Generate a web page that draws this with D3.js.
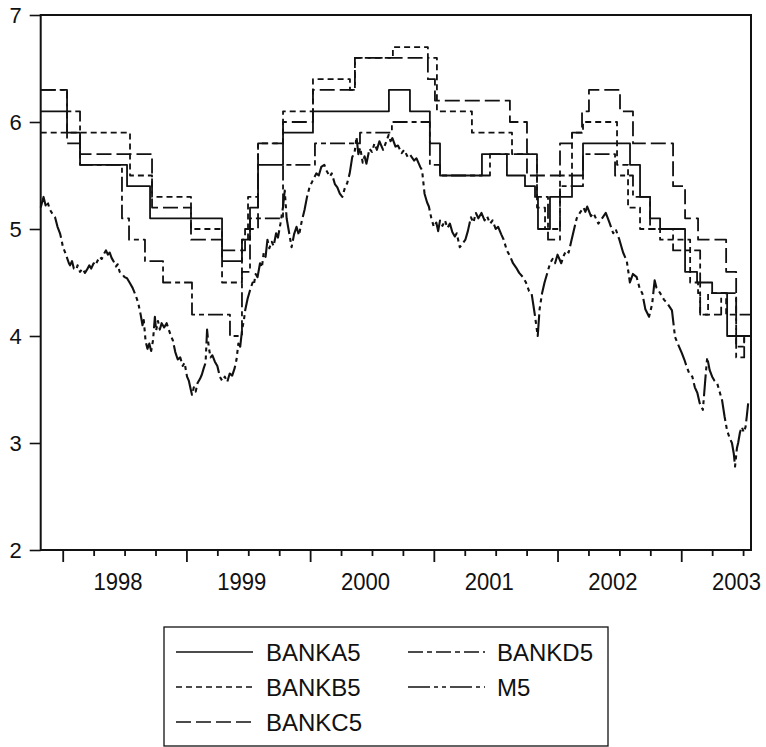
<!DOCTYPE html>
<html>
<head>
<meta charset="utf-8">
<script src="https://cdn.jsdelivr.net/npm/d3@7"></script>
<style>
  body { margin: 0; background: #fff; }
  text { font-family: "Liberation Sans", Arial, Helvetica, sans-serif; fill: #111; }
</style>
</head>
<body>
<svg id="chart" width="766" height="747"></svg>
<script>
// step series: [decimal year, rate], each value holds until the next entry
const bankA5 = [
  [1997.822, 6.1], [1998.035, 5.9], [1998.140, 5.6], [1998.520, 5.4], [1998.706, 5.1],
  [1999.288, 4.7], [1999.449, 4.9], [1999.514, 5.2], [1999.579, 5.6], [1999.781, 5.9],
  [2000.023, 6.1], [2000.637, 6.3], [2000.807, 6.1], [2000.968, 5.8], [2001.050, 5.5],
  [2001.389, 5.7], [2001.591, 5.5], [2001.737, 5.4], [2001.818, 5.3], [2001.842, 5.0],
  [2001.939, 5.3], [2002.117, 5.5], [2002.206, 5.8], [2002.586, 5.6], [2002.667, 5.3],
  [2002.748, 5.1], [2002.829, 5.0], [2003.031, 4.6], [2003.128, 4.5], [2003.250, 4.4],
  [2003.371, 4.0], [2003.564, 4.0]
];
const bankB5 = [
  [1997.822, 5.9], [1998.544, 5.5], [1998.722, 5.3], [1999.037, 5.0], [1999.288, 4.5],
  [1999.449, 4.9], [1999.498, 5.3], [1999.579, 5.8], [1999.781, 6.1], [2000.023, 6.4],
  [2000.322, 6.3], [2000.362, 6.6], [2000.669, 6.7], [2000.952, 6.6], [2001.025, 6.1],
  [2001.308, 5.9], [2001.632, 5.7], [2001.834, 5.2], [2001.899, 5.0], [2002.020, 5.5],
  [2002.117, 5.9], [2002.206, 6.0], [2002.481, 5.6], [2002.570, 5.2], [2002.667, 5.0],
  [2002.829, 4.9], [2003.072, 4.5], [2003.136, 4.4], [2003.153, 4.2], [2003.217, 4.4],
  [2003.363, 4.2], [2003.444, 3.9], [2003.509, 4.0], [2003.564, 4.0]
];
const bankC5 = [
  [1997.822, 6.3], [1998.035, 5.8], [1998.140, 5.7], [1998.722, 5.2], [1999.037, 4.9],
  [1999.288, 4.8], [1999.474, 5.0], [1999.579, 5.8], [1999.781, 6.0], [2000.023, 6.3],
  [2000.362, 6.6], [2000.952, 6.4], [2001.009, 6.2], [2001.615, 6.0], [2001.753, 5.5],
  [2002.020, 5.8], [2002.117, 5.9], [2002.198, 6.1], [2002.254, 6.3], [2002.505, 6.1],
  [2002.610, 5.8], [2002.934, 5.4], [2003.031, 5.1], [2003.136, 4.9], [2003.363, 4.6],
  [2003.444, 4.2], [2003.564, 4.2]
];
const bankD5 = [
  [1997.822, 6.3], [1998.035, 6.1], [1998.140, 5.6], [1998.479, 5.1], [1998.536, 4.9],
  [1998.665, 4.7], [1998.811, 4.5], [1999.045, 4.2], [1999.352, 4.0], [1999.449, 4.6],
  [1999.514, 5.1], [1999.781, 5.6], [2000.039, 5.8], [2000.403, 5.9], [2000.661, 6.0],
  [2000.968, 5.6], [2001.050, 5.5], [2001.454, 5.7], [2001.834, 5.3], [2001.923, 4.9],
  [2002.020, 5.4], [2002.206, 5.7], [2002.465, 5.5], [2002.610, 5.3], [2002.748, 5.0],
  [2002.934, 4.8], [2003.153, 4.2], [2003.323, 4.4], [2003.444, 3.8], [2003.509, 4.0],
  [2003.564, 4.0]
];
// market rate (noisy daily series)
const m5 = [
  [1997.822, 5.20], [1997.845, 5.30], [1997.862, 5.22], [1997.875, 5.26], [1997.897, 5.18],
  [1997.918, 5.14], [1997.938, 5.11], [1997.958, 5.02], [1997.978, 4.96], [1997.990, 4.90],
  [1998.002, 4.83], [1998.020, 4.78], [1998.035, 4.73], [1998.050, 4.68], [1998.059, 4.66],
  [1998.075, 4.70], [1998.090, 4.63], [1998.110, 4.62], [1998.120, 4.66], [1998.140, 4.60],
  [1998.160, 4.63], [1998.180, 4.59], [1998.196, 4.62], [1998.215, 4.66], [1998.230, 4.63],
  [1998.250, 4.68], [1998.265, 4.66], [1998.280, 4.70], [1998.300, 4.74], [1998.315, 4.72],
  [1998.335, 4.77], [1998.350, 4.80], [1998.365, 4.76], [1998.380, 4.78], [1998.395, 4.73],
  [1998.410, 4.70], [1998.430, 4.65], [1998.445, 4.67], [1998.460, 4.60], [1998.480, 4.58],
  [1998.500, 4.55], [1998.520, 4.54], [1998.545, 4.49], [1998.565, 4.45], [1998.590, 4.38],
  [1998.610, 4.31], [1998.630, 4.20], [1998.645, 4.10], [1998.655, 4.15], [1998.670, 3.95],
  [1998.685, 3.88], [1998.700, 3.93], [1998.715, 3.86], [1998.730, 3.96], [1998.745, 4.18],
  [1998.755, 4.05], [1998.770, 4.14], [1998.785, 4.06], [1998.800, 4.12], [1998.820, 4.08],
  [1998.840, 4.12], [1998.860, 4.05], [1998.875, 4.00], [1998.890, 3.96], [1998.910, 3.85],
  [1998.930, 3.78], [1998.950, 3.80], [1998.970, 3.72], [1998.985, 3.75], [1999.005, 3.62],
  [1999.020, 3.58], [1999.035, 3.50], [1999.045, 3.45], [1999.060, 3.52], [1999.075, 3.48],
  [1999.090, 3.56], [1999.110, 3.60], [1999.125, 3.64], [1999.140, 3.70], [1999.155, 3.75],
  [1999.167, 4.06], [1999.180, 3.90], [1999.195, 3.80], [1999.210, 3.82], [1999.230, 3.76],
  [1999.250, 3.72], [1999.270, 3.62], [1999.290, 3.58], [1999.310, 3.62], [1999.330, 3.57],
  [1999.350, 3.65], [1999.370, 3.63], [1999.390, 3.70], [1999.405, 3.78], [1999.420, 3.93],
  [1999.435, 3.90], [1999.450, 4.06], [1999.465, 4.15], [1999.475, 4.24], [1999.495, 4.35],
  [1999.515, 4.43], [1999.535, 4.50], [1999.545, 4.48], [1999.560, 4.58], [1999.575, 4.55],
  [1999.595, 4.68], [1999.610, 4.64], [1999.625, 4.78], [1999.640, 4.74], [1999.655, 4.90],
  [1999.670, 4.82], [1999.690, 4.88], [1999.705, 4.84], [1999.725, 4.96], [1999.740, 4.92],
  [1999.760, 5.05], [1999.780, 5.20], [1999.795, 5.36], [1999.810, 5.10], [1999.825, 5.00],
  [1999.850, 4.83], [1999.870, 4.95], [1999.890, 5.02], [1999.910, 4.94], [1999.930, 5.06],
  [1999.955, 5.18], [1999.975, 5.30], [1999.995, 5.39], [2000.020, 5.45], [2000.050, 5.52],
  [2000.070, 5.50], [2000.090, 5.58], [2000.115, 5.60], [2000.130, 5.55], [2000.160, 5.49],
  [2000.175, 5.52], [2000.200, 5.42], [2000.220, 5.39], [2000.240, 5.33], [2000.260, 5.30],
  [2000.280, 5.38], [2000.300, 5.43], [2000.320, 5.52], [2000.340, 5.67], [2000.360, 5.72],
  [2000.375, 5.86], [2000.390, 5.70], [2000.405, 5.76], [2000.425, 5.62], [2000.440, 5.68],
  [2000.455, 5.61], [2000.480, 5.75], [2000.500, 5.72], [2000.520, 5.80], [2000.540, 5.74],
  [2000.560, 5.82], [2000.590, 5.74], [2000.610, 5.80], [2000.635, 5.88], [2000.650, 5.82],
  [2000.665, 5.85], [2000.690, 5.77], [2000.710, 5.78], [2000.740, 5.71], [2000.760, 5.74],
  [2000.790, 5.67], [2000.810, 5.69], [2000.840, 5.64], [2000.860, 5.66], [2000.890, 5.58],
  [2000.905, 5.55], [2000.925, 5.33], [2000.945, 5.25], [2000.960, 5.21], [2000.980, 5.10],
  [2001.000, 5.02], [2001.020, 5.06], [2001.035, 4.98], [2001.050, 5.08], [2001.070, 5.03],
  [2001.090, 5.08], [2001.110, 5.01], [2001.130, 5.05], [2001.150, 4.97], [2001.170, 4.93],
  [2001.185, 4.96], [2001.210, 4.83], [2001.230, 4.86], [2001.255, 4.90], [2001.275, 4.98],
  [2001.300, 5.11], [2001.320, 5.06], [2001.340, 5.15], [2001.360, 5.10], [2001.385, 5.15],
  [2001.410, 5.08], [2001.430, 5.12], [2001.455, 5.05], [2001.475, 5.08], [2001.500, 5.00],
  [2001.520, 5.02], [2001.545, 4.95], [2001.565, 4.90], [2001.590, 4.80], [2001.615, 4.75],
  [2001.640, 4.68], [2001.665, 4.64], [2001.690, 4.59], [2001.720, 4.55], [2001.745, 4.50],
  [2001.770, 4.42], [2001.790, 4.40], [2001.815, 4.21], [2001.840, 4.00], [2001.855, 4.25],
  [2001.875, 4.40], [2001.895, 4.50], [2001.915, 4.58], [2001.940, 4.68], [2001.960, 4.72],
  [2001.980, 4.68], [2002.000, 4.76], [2002.030, 4.68], [2002.050, 4.75], [2002.070, 4.80],
  [2002.090, 4.78], [2002.110, 4.88], [2002.130, 4.98], [2002.155, 5.10], [2002.180, 5.15],
  [2002.210, 5.20], [2002.225, 5.16], [2002.240, 5.21], [2002.270, 5.12], [2002.290, 5.15],
  [2002.330, 5.05], [2002.360, 5.10], [2002.390, 5.15], [2002.420, 5.06], [2002.450, 4.96],
  [2002.470, 5.00], [2002.500, 4.90], [2002.530, 4.78], [2002.560, 4.70], [2002.585, 4.50],
  [2002.610, 4.58], [2002.640, 4.55], [2002.665, 4.44], [2002.685, 4.40], [2002.710, 4.25],
  [2002.740, 4.18], [2002.765, 4.30], [2002.785, 4.52], [2002.800, 4.45], [2002.830, 4.40],
  [2002.860, 4.34], [2002.885, 4.31], [2002.925, 4.24], [2002.950, 3.99], [2002.975, 3.92],
  [2003.005, 3.84], [2003.025, 3.78], [2003.045, 3.71], [2003.065, 3.65], [2003.090, 3.62],
  [2003.110, 3.52], [2003.130, 3.47], [2003.150, 3.37], [2003.175, 3.31], [2003.195, 3.60],
  [2003.210, 3.80], [2003.230, 3.68], [2003.250, 3.62], [2003.270, 3.58], [2003.290, 3.56],
  [2003.310, 3.48], [2003.330, 3.40], [2003.350, 3.25], [2003.370, 3.12], [2003.390, 3.05],
  [2003.410, 3.00], [2003.425, 2.90], [2003.435, 2.78], [2003.450, 2.95], [2003.460, 3.00],
  [2003.475, 3.10], [2003.490, 3.15], [2003.505, 3.10], [2003.520, 3.15], [2003.530, 3.25],
  [2003.541, 3.37]
];

const yTicks = [2, 3, 4, 5, 6, 7];
const yearLabels = [1998, 1999, 2000, 2001, 2002, 2003];
const legendNames = ["BANKA5", "BANKB5", "BANKC5", "BANKD5", "M5"];

const series = [
  { name: "BANKA5", data: bankA5, dash: null, step: true },
  { name: "BANKB5", data: bankB5, dash: "6,4", step: true },
  { name: "BANKC5", data: bankC5, dash: "15,5", step: true },
  { name: "BANKD5", data: bankD5, dash: "15,4,5,4", step: true },
  { name: "M5", data: m5, dash: "22,4,4,4,4,4", step: false }
];

const svg = d3.select("#chart");
const plotLeft = 40.7, plotRight = 751, plotTop = 15, plotBottom = 550;

const x = d3.scaleLinear().domain([1997.822, 2003.564]).range([plotLeft, plotRight]);
const y = d3.scaleLinear().domain([2, 7]).range([plotBottom, plotTop]);

const plot = svg.append("g");

const stepLine = d3.line().x(d => x(d[0])).y(d => y(d[1])).curve(d3.curveStepAfter);
const plainLine = d3.line().x(d => x(d[0])).y(d => y(d[1]));

series.forEach(s => {
  plot.append("path")
    .datum(s.data)
    .attr("d", s.step ? stepLine : plainLine)
    .attr("fill", "none")
    .attr("stroke", "#111")
    .attr("stroke-width", s.step ? 1.8 : 2.1)
    .attr("stroke-linejoin", "round")
    .attr("stroke-dasharray", s.dash);
});

// frame
svg.append("rect")
  .attr("x", plotLeft).attr("y", plotTop)
  .attr("width", plotRight - plotLeft).attr("height", plotBottom - plotTop)
  .attr("fill", "none").attr("stroke", "#111").attr("stroke-width", 2);

// y axis
const yAxis = svg.append("g")
  .attr("transform", `translate(${plotLeft},0)`)
  .call(d3.axisLeft(y).tickValues(yTicks).tickSize(11).tickPadding(8).tickFormat(d3.format("d")));
yAxis.select(".domain").remove();
yAxis.selectAll("line").attr("stroke", "#111").attr("stroke-width", 1.6);
yAxis.selectAll("text").attr("font-size", 22).attr("font-family", null);

// x axis: years and quarters
const majorTicks = yearLabels.map(d => d);
const minorTicks = [];
yearLabels.forEach(yr => [0.25, 0.5, 0.75].forEach(q => { if (yr + q <= 2003.564) minorTicks.push(yr + q); }));

const xMajor = svg.append("g")
  .attr("transform", `translate(0,${plotBottom})`)
  .call(d3.axisBottom(x).tickValues(majorTicks).tickSize(12).tickFormat(""));
const xMinor = svg.append("g")
  .attr("transform", `translate(0,${plotBottom})`)
  .call(d3.axisBottom(x).tickValues(minorTicks).tickSize(6).tickFormat(""));
[xMajor, xMinor].forEach(g => {
  g.select(".domain").remove();
  g.selectAll("line").attr("stroke", "#111").attr("stroke-width", 1.8);
});

svg.append("g").selectAll("text")
  .data(yearLabels)
  .join("text")
  .attr("x", 0)
  .attr("y", 590)
  .attr("text-anchor", "middle")
  .attr("font-size", 24)
  .attr("transform", d => `translate(${x(d + 0.5) - 6.5},0) scale(0.92,1)`)
  .text(d => d);

// legend
const legend = svg.append("g");
legend.append("rect")
  .attr("x", 164).attr("y", 627).attr("width", 444).attr("height", 119)
  .attr("fill", "none").attr("stroke", "#111").attr("stroke-width", 1.3);

const legendPos = [
  { lx: 176, tx: 266, ly: 652 }, { lx: 176, tx: 266, ly: 687 }, { lx: 176, tx: 266, ly: 722 },
  { lx: 408, tx: 497, ly: 652 }, { lx: 408, tx: 497, ly: 687 }
];
series.forEach((s, i) => {
  const p = legendPos[i];
  legend.append("line")
    .attr("x1", p.lx).attr("x2", p.lx + 77)
    .attr("y1", p.ly).attr("y2", p.ly)
    .attr("stroke", "#111").attr("stroke-width", 1.7)
    .attr("stroke-dasharray", s.dash);
  legend.append("text")
    .attr("x", p.tx).attr("y", p.ly + 9)
    .attr("font-size", 24)
    .text(legendNames[i]);
});
</script>
</body>
</html>
